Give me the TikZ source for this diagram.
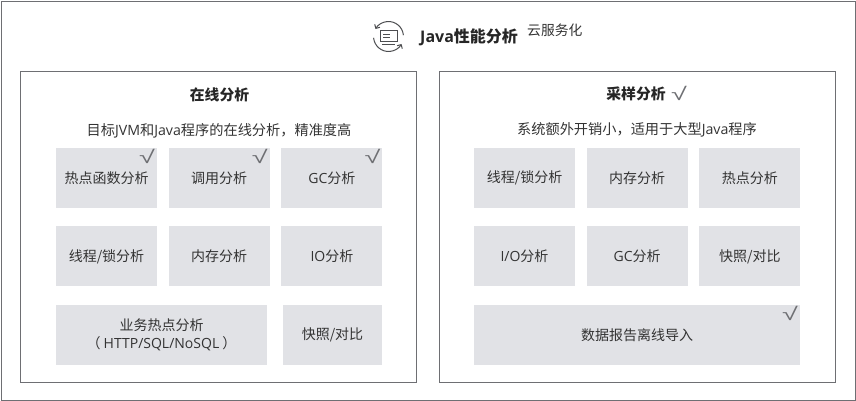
\documentclass[tikz,border=0pt]{standalone}
\usepackage{fontspec}
\setmainfont{Noto Sans CJK SC}
\newfontfamily\en{Open Sans}
\newfontfamily\tickfont[FakeStretch=1.6]{Liberation Sans}
\usetikzlibrary{positioning, arrows.meta}
\definecolor{framegray}{HTML}{6E6F73}
\definecolor{cellgray}{HTML}{E1E2E6}
\definecolor{inkgray}{HTML}{333333}
\tikzset{
    panel/.style={
        rectangle,
        draw=framegray,
        line width=1pt,
        minimum width=396,
        minimum height=311,
        anchor=north west
    },
    cell/.style={
        rectangle,
        fill=cellgray,
        text=inkgray,
        font=\fontsize{14}{17.5}\selectfont,
        align=center,
        inner sep=0pt,
        minimum width=101,
        minimum height=60
    },
    wide cell/.style={
        cell,
        minimum width=#1
    },
    heading/.style={
        text=black!85,
        inner sep=0pt,
        font=\fontsize{14.8}{18}\selectfont\bfseries
    },
    caption/.style={
        text=inkgray,
        inner sep=0pt,
        font=\fontsize{14.2}{17}\selectfont
    },
    tick/.style={
        text=framegray,
        inner sep=0pt,
        font=\fontsize{18}{18}\selectfont\tickfont
    }
}
\begin{document}
\begin{tikzpicture}[x=1pt,y=-1pt,node distance=18pt and 11.3pt]
\useasboundingbox (0,0) rectangle (856,401);
\node[draw=framegray,line width=1pt,minimum width=854,minimum height=399,anchor=north west,inner sep=0pt] (outer) at (1,1) {};

% title
\node[heading,anchor=west,font=\fontsize{16}{18}\selectfont\bfseries] (title) at (420,37) {{\en Java}性能分析};
\node[caption,anchor=west,font=\fontsize{13.8}{17}\selectfont] (cloud) at (527,30) {云服务化};
\begin{scope}[framegray!70!black,line width=1pt]
\draw[-{Straight Barb[length=3pt]}] (403.4,35.2) arc (-5:-150:15);
\draw[-{Straight Barb[length=3pt]}] (373.6,37.8) arc (175:30:15);
\draw[line width=0.8pt] (380,30) rectangle (397,41);
\draw[line width=0.8pt] (383,34) -- (390,34) (383,37) -- (390,37) (382,44) -- (395,44);
\end{scope}

% online panel
\node[panel] (online) at (20,71) {};
\node[heading] (onlinehead) at (219.5,94.5) {在线分析};
\node[caption] (onlinecap) at (219,131) {目标{\en JVM}和{\en Java}程序的在线分析，精准度高};
\node[cell] (hot) at (106.5,178) {热点函数分析};
\node[cell,right=of hot] (call) {调用分析};
\node[cell,right=of call] (gc) {{\en GC}分析};
\node[cell,below=of hot] (thread) {线程/锁分析};
\node[cell,below=of call] (mem) {内存分析};
\node[cell,below=of gc] (io) {{\en IO}分析};
\node[wide cell=211] (biz) at (161.5,335) {业务热点分析\\（ {\en HTTP/SQL/NoSQL} ）};
\node[wide cell=99] (snap) at (332.5,335) {快照/对比};
\node[tick,anchor=north east] at ([xshift=-2pt,yshift=-1pt]hot.north east) {√};
\node[tick,anchor=north east] at ([xshift=-2pt,yshift=-1pt]call.north east) {√};
\node[tick,anchor=north east] at ([xshift=-2pt,yshift=-1pt]gc.north east) {√};

% sampling panel
\node[panel] (sample) at (439,71) {};
\node[heading] (samplehead) at (636,93.5) {采样分析};
\node[tick,right=5pt of samplehead] (sampletick) {√};
\node[caption] (samplecap) at (637,129.5) {系统额外开销小，适用于大型{\en Java}程序};
\node[cell] (sthread) at (524.5,178) {线程/锁分析};
\node[cell,right=of sthread] (smem) {内存分析};
\node[cell,right=of smem] (shot) {热点分析};
\node[cell,below=of sthread] (sio) {{\en I/O}分析};
\node[cell,below=of smem] (sgc) {{\en GC}分析};
\node[cell,below=of shot] (ssnap) {快照/对比};
\node[wide cell=326] (report) at (637,335) {数据报告离线导入};
\node[tick,anchor=north east] at ([xshift=-2pt,yshift=-1pt]report.north east) {√};
\end{tikzpicture}
\end{document}
